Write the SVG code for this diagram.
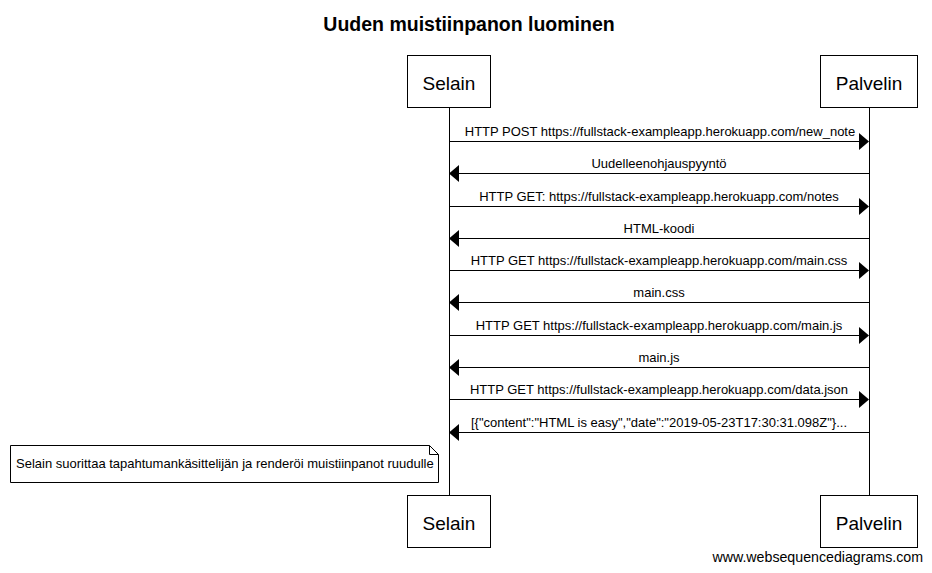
<svg xmlns="http://www.w3.org/2000/svg" width="932" height="573" viewBox="0 0 932 573">
<style>
.box{fill:#fff;stroke:#000;stroke-width:1}
.pt{font-family:"Liberation Sans",Arial,sans-serif;font-size:19px;text-anchor:middle;fill:#000}
.lbl{font-family:"Liberation Sans",Arial,sans-serif;font-size:13px;text-anchor:middle;fill:#000}
.ln{stroke:#000;stroke-width:1;fill:none}
.ah{fill:#000}
</style>
<rect width="932" height="573" fill="#fff"/>
<text x="469" y="31" font-family="Liberation Sans,Arial,sans-serif" font-size="19.5" font-weight="bold" text-anchor="middle">Uuden muistiinpanon luominen</text>
<g id="lifelines">
<line class="ln" x1="449.5" y1="107" x2="449.5" y2="495"/>
<line class="ln" x1="869.5" y1="107" x2="869.5" y2="495"/>
</g>
<g id="selain-top"><rect class="box" x="407.5" y="55.5" width="83" height="52"/><text class="pt" x="449" y="90">Selain</text></g>
<g id="palvelin-top"><rect class="box" x="820.5" y="55.5" width="97" height="52"/><text class="pt" x="869" y="90">Palvelin</text></g>
<g id="selain-bottom"><rect class="box" x="407.5" y="495.5" width="83" height="52"/><text class="pt" x="449" y="530">Selain</text></g>
<g id="palvelin-bottom"><rect class="box" x="820.5" y="495.5" width="97" height="52"/><text class="pt" x="869" y="530">Palvelin</text></g>
<g id="connectors">
<line class="ln" x1="449" y1="141.5" x2="860" y2="141.5"/><polygon class="ah" points="859,133 869,141.5 859,150"/>
<text class="lbl" x="660" y="136">HTTP POST https://fullstack-exampleapp.herokuapp.com/new_note</text>
<line class="ln" x1="869" y1="173.5" x2="458" y2="173.5"/><polygon class="ah" points="459,165 449,173.5 459,182"/>
<text class="lbl" x="659" y="168">Uudelleenohjauspyyntö</text>
<line class="ln" x1="449" y1="206.5" x2="860" y2="206.5"/><polygon class="ah" points="859,198 869,206.5 859,215"/>
<text class="lbl" x="659" y="201">HTTP GET: https://fullstack-exampleapp.herokuapp.com/notes</text>
<line class="ln" x1="869" y1="238.5" x2="458" y2="238.5"/><polygon class="ah" points="459,230 449,238.5 459,247"/>
<text class="lbl" x="659" y="233">HTML-koodi</text>
<line class="ln" x1="449" y1="270.5" x2="860" y2="270.5"/><polygon class="ah" points="859,262 869,270.5 859,279"/>
<text class="lbl" x="659" y="265">HTTP GET https://fullstack-exampleapp.herokuapp.com/main.css</text>
<line class="ln" x1="869" y1="302.5" x2="458" y2="302.5"/><polygon class="ah" points="459,294 449,302.5 459,311"/>
<text class="lbl" x="659" y="297">main.css</text>
<line class="ln" x1="449" y1="335.5" x2="860" y2="335.5"/><polygon class="ah" points="859,327 869,335.5 859,344"/>
<text class="lbl" x="659" y="330">HTTP GET https://fullstack-exampleapp.herokuapp.com/main.js</text>
<line class="ln" x1="869" y1="367.5" x2="458" y2="367.5"/><polygon class="ah" points="459,359 449,367.5 459,376"/>
<text class="lbl" x="659" y="362">main.js</text>
<line class="ln" x1="449" y1="399.5" x2="860" y2="399.5"/><polygon class="ah" points="859,391 869,399.5 859,408"/>
<text class="lbl" x="659" y="394">HTTP GET https://fullstack-exampleapp.herokuapp.com/data.json</text>
<line class="ln" x1="869" y1="432.5" x2="458" y2="432.5"/><polygon class="ah" points="459,424 449,432.5 459,441"/>
<text class="lbl" x="659" y="427">[{"content":"HTML is easy","date":"2019-05-23T17:30:31.098Z"}...</text>
</g>
<g id="note">
<path class="box" d="M10.5,445.5 H429.5 L438.5,454.5 V482.5 H10.5 Z"/>
<path class="ln" d="M429.5,445.5 V454.5 H438.5"/>
<text x="16" y="468" font-family="Liberation Sans,Arial,sans-serif" font-size="13">Selain suorittaa tapahtumankäsittelijän ja renderöi muistiinpanot ruudulle</text>
</g>
<text x="923" y="562" font-family="Liberation Sans,Arial,sans-serif" font-size="14.2" text-anchor="end">www.websequencediagrams.com</text>
</svg>
